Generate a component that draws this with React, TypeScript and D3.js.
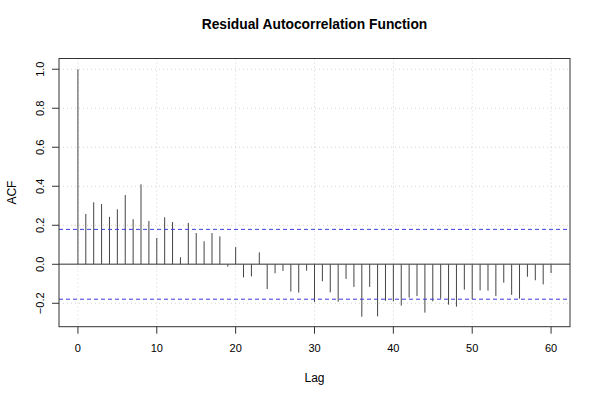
import React from "react";
import * as d3 from "d3";

const lags: number[] = d3.range(0, 61);
const acfValues: number[] = [
  1.0, 0.258, 0.318, 0.309, 0.243, 0.282, 0.355, 0.231, 0.41, 0.222,
  0.135, 0.241, 0.217, 0.036, 0.212, 0.16, 0.118, 0.16, 0.143, -0.012,
  0.088, -0.067, -0.062, 0.061, -0.127, -0.046, -0.034, -0.14, -0.145, -0.033,
  -0.193, -0.087, -0.144, -0.192, -0.075, -0.116, -0.269, -0.116, -0.267, -0.187,
  -0.19, -0.212, -0.171, -0.163, -0.248, -0.19, -0.176, -0.207, -0.217, -0.13,
  -0.178, -0.134, -0.135, -0.163, -0.094, -0.157, -0.176, -0.064, -0.082, -0.103,
  -0.045,
];
const confLimit = 0.179;
const xTicks: number[] = [0, 10, 20, 30, 40, 50, 60];
const yTicks: number[] = [-0.2, 0.0, 0.2, 0.4, 0.6, 0.8, 1.0];
const title = "Residual Autocorrelation Function";
const xLabel = "Lag";
const yLabel = "ACF";

export default function App() {
  const W = 600, H = 400;
  const left = 59, right = 570, top = 58.5, bottom = 326.7;
  const x = d3.scaleLinear().domain([-2.4, 62.4]).range([left, right]);
  const y = d3.scaleLinear().domain([-0.32, 1.055]).range([bottom, top]);
  const font = "'Liberation Sans', Arial, Helvetica, sans-serif";
  return (
    <svg width={W} height={H} style={{ position: "absolute", left: 0, top: 0, background: "#fff" }}>
      <rect x={0} y={0} width={W} height={H} fill="#fff" />
      {xTicks.map((t) => (
        <line key={"gx" + t} x1={x(t)} x2={x(t)} y1={top} y2={bottom} stroke="#d3d3d3" strokeDasharray="1,3" strokeWidth={1} />
      ))}
      {yTicks.map((t) => (
        <line key={"gy" + t} x1={left} x2={right} y1={y(t)} y2={y(t)} stroke="#d3d3d3" strokeDasharray="1,3" strokeWidth={1} />
      ))}
      <line x1={left} x2={right} y1={y(0)} y2={y(0)} stroke="#777" strokeWidth={1.5} />
      {lags.map((l, i) => (
        <line key={"b" + l} x1={x(l)} x2={x(l)} y1={y(0)} y2={y(acfValues[i])} stroke="#444" strokeWidth={1} />
      ))}
      {[confLimit, -confLimit].map((c) => (
        <line key={"c" + c} x1={left} x2={right} y1={y(c)} y2={y(c)} stroke="#3a3ae0" strokeWidth={1} strokeDasharray="4,3" />
      ))}
      <rect x={left} y={top} width={right - left} height={bottom - top} fill="none" stroke="#333" strokeWidth={1} />
      {xTicks.map((t) => (
        <g key={"xt" + t}>
          <line x1={x(t)} x2={x(t)} y1={bottom} y2={bottom + 7} stroke="#333" />
          <text x={x(t)} y={352} textAnchor="middle" fontFamily={font} fontSize={11} fill="#000">{t}</text>
        </g>
      ))}
      {yTicks.map((t) => (
        <g key={"yt" + t}>
          <line x1={left - 7} x2={left} y1={y(t)} y2={y(t)} stroke="#333" />
          <text transform={`translate(44,${y(t)}) rotate(-90)`} textAnchor="middle" fontFamily={font} fontSize={11} fill="#000">
            {t === -0.2 ? "\u22120.2" : t.toFixed(1)}
          </text>
        </g>
      ))}
      <text x={(left + right) / 2} y={29} textAnchor="middle" fontFamily={font} fontSize={13.8} fontWeight="bold" fill="#000">{title}</text>
      <text x={(left + right) / 2} y={382} textAnchor="middle" fontFamily={font} fontSize={12} fill="#000">{xLabel}</text>
      <text transform={`translate(16,${(top + bottom) / 2}) rotate(-90)`} textAnchor="middle" fontFamily={font} fontSize={12} fill="#000">{yLabel}</text>
    </svg>
  );
}
